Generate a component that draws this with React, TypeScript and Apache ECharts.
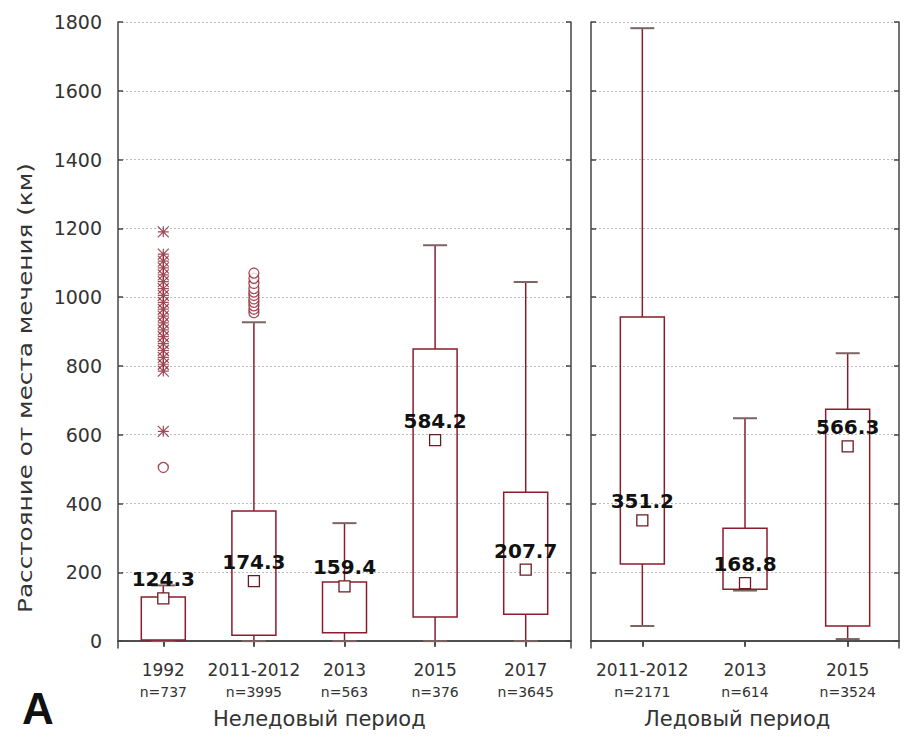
import React, { useEffect, useRef } from "react";
import * as echarts from "echarts";

// ---- Data ----
const nonIceCategories = ["1992", "2011-2012", "2013", "2015", "2017"];
const nonIceN = [737, 3995, 563, 376, 3645];
const nonIceMin = [0, 0, 0, 0, 0];
const nonIceQ1 = [3, 17, 24, 70, 78];
const nonIceMedian = [124.3, 174.3, 159.4, 584.2, 207.7];
const nonIceQ3 = [128, 378, 172, 849, 433];
const nonIceMax = [162, 927, 343, 1151, 1044];

const iceCategories = ["2011-2012", "2013", "2015"];
const iceN = [2171, 614, 3524];
const iceMin = [44, 147, 6];
const iceQ1 = [224, 151, 44];
const iceMedian = [351.2, 168.8, 566.3];
const iceQ3 = [942, 328, 674];
const iceMax = [1782, 648, 837];

// outliers (circles) and extremes (asterisks), non-ice period
const outliers1992 = [505];
const extremes1992 = [610, 785, 805, 825, 845, 865, 885, 905, 925, 945, 965, 985, 1005, 1025, 1045, 1065, 1085, 1105, 1125, 1190];
const outliers2011 = [955, 965, 975, 985, 995, 1005, 1015, 1025, 1040, 1055, 1070];

const yTicks = [0, 200, 400, 600, 800, 1000, 1200, 1400, 1600, 1800];

const RED = "#8b1c2c";
const CAP = "#7d6363";
const FONT = "DejaVu Sans";

function boxData(mins: number[], q1: number[], med: number[], q3: number[], max: number[]) {
  return mins.map((_, i) => [i, mins[i], q1[i], med[i], q3[i], max[i]]);
}

function renderBox(params: any, api: any) {
  const idx = api.value(0);
  const pMin = api.coord([idx, api.value(1)]);
  const pQ1 = api.coord([idx, api.value(2)]);
  const pMed = api.coord([idx, api.value(3)]);
  const pQ3 = api.coord([idx, api.value(4)]);
  const pMax = api.coord([idx, api.value(5)]);
  const x = pMin[0];
  const half = 22;
  const cap = 12;
  const sq = 11;
  return {
    type: "group",
    children: [
      { type: "line", shape: { x1: x, y1: pQ3[1], x2: x, y2: pMax[1] }, style: { stroke: RED, lineWidth: 1.5 } },
      { type: "line", shape: { x1: x, y1: pQ1[1], x2: x, y2: pMin[1] }, style: { stroke: RED, lineWidth: 1.5 } },
      { type: "line", shape: { x1: x - cap, y1: pMax[1], x2: x + cap, y2: pMax[1] }, style: { stroke: CAP, lineWidth: 2 } },
      { type: "line", shape: { x1: x - cap, y1: pMin[1], x2: x + cap, y2: pMin[1] }, style: { stroke: CAP, lineWidth: 2 } },
      {
        type: "rect",
        shape: { x: x - half, y: pQ3[1], width: half * 2, height: pQ1[1] - pQ3[1] },
        style: { fill: "rgba(255,255,255,0)", stroke: RED, lineWidth: 1.5 },
      },
      {
        type: "rect",
        shape: { x: x - sq / 2, y: pMed[1] - sq / 2, width: sq, height: sq },
        style: { fill: "#fff", stroke: "#6a1a22", lineWidth: 1.3 },
      },
      {
        type: "text",
        x: x,
        y: pMed[1] - 19,
        style: {
          text: String(api.value(3)),
          fill: "#111",
          font: `bold 20px "${FONT}"`,
          align: "center",
          verticalAlign: "middle",
        },
      },
    ],
  };
}

export default function App() {
  const ref = useRef<HTMLDivElement>(null);
  useEffect(() => {
    if (!ref.current) return;
    const chart = echarts.init(ref.current, undefined, { renderer: "svg" });

    const axisLine = { show: true, lineStyle: { color: "#444", width: 1.5 } };
    const catLabel = (ns: number[]) => ({
      show: true,
      interval: 0,
      margin: 11,
      formatter: (v: string, i: number) => `{c|${v}}\n{n|n=${ns[i]}}`,
      rich: {
        c: { fontSize: 17, lineHeight: 22, color: "#333", fontFamily: FONT },
        n: { fontSize: 14, lineHeight: 22, color: "#333", fontFamily: FONT },
      },
    });
    const yBase = (gridIndex: number, position: string, showLabel: boolean, split: boolean) => ({
      type: "value",
      gridIndex,
      position,
      min: -20,
      max: 1800,
      axisLine,
      axisTick: { show: true, inside: true, length: 5, customValues: yTicks, lineStyle: { color: "#444", width: 1.5 } },
      axisLabel: {
        show: showLabel,
        customValues: yTicks,
        formatter: (v: number) => String(v),
        margin: 16,
        fontSize: 19,
        color: "#333",
        fontFamily: FONT,
      },
      splitLine: split
        ? { show: true, lineStyle: { color: "#bdbdbd", type: [2, 2], width: 1 } }
        : { show: false },
    });

    const option: any = {
      animation: false,
      backgroundColor: "#fff",
      grid: [
        { left: 118, top: 22, width: 453, height: 626 },
        { left: 591, top: 22, width: 308, height: 626 },
      ],
      xAxis: [
        {
          type: "category",
          gridIndex: 0,
          data: nonIceCategories,
          position: "bottom",
          axisLine,
          axisTick: { show: true, alignWithLabel: true, length: 6, lineStyle: { color: "#444", width: 1.5 } },
          axisLabel: catLabel(nonIceN),
          splitLine: { show: false },
        },
        {
          type: "category",
          gridIndex: 0,
          data: nonIceCategories,
          position: "top",
          axisLine,
          axisTick: { show: true, inside: true, alignWithLabel: true, length: 5, lineStyle: { color: "#444", width: 1.5 } },
          axisLabel: { show: false },
        },
        {
          type: "category",
          gridIndex: 1,
          data: iceCategories,
          position: "bottom",
          axisLine,
          axisTick: { show: true, alignWithLabel: true, length: 6, lineStyle: { color: "#444", width: 1.5 } },
          axisLabel: catLabel(iceN),
        },
        {
          type: "category",
          gridIndex: 1,
          data: iceCategories,
          position: "top",
          axisLine,
          axisTick: { show: true, inside: true, alignWithLabel: true, length: 5, lineStyle: { color: "#444", width: 1.5 } },
          axisLabel: { show: false },
        },
      ],
      yAxis: [
        yBase(0, "left", true, true),
        yBase(0, "right", false, false),
        yBase(1, "left", false, true),
        yBase(1, "right", false, false),
      ],
      graphic: [
        {
          type: "text",
          x: 26,
          y: 388,
          rotation: Math.PI / 2,
          scaleX: 1.3,
          style: {
            text: "Расстояние от места мечения (км)",
            font: `19px "${FONT}"`,
            fill: "#333",
            align: "center",
            verticalAlign: "middle",
          },
        },
        { type: "text", left: 213, top: 708, style: { text: "Неледовый период", font: `21px "${FONT}"`, fill: "#333" } },
        { type: "text", left: 644, top: 708, style: { text: "Ледовый период", font: `21px "${FONT}"`, fill: "#333" } },
        { type: "text", left: 22, top: 686, style: { text: "A", font: `bold 44px "Liberation Sans"`, fill: "#111" } },
      ],
      series: [
        {
          type: "custom",
          xAxisIndex: 0,
          yAxisIndex: 0,
          renderItem: renderBox,
          encode: { x: 0, y: [1, 2, 3, 4, 5] },
          data: boxData(nonIceMin, nonIceQ1, nonIceMedian, nonIceQ3, nonIceMax),
          z: 3,
        },
        {
          type: "custom",
          xAxisIndex: 2,
          yAxisIndex: 2,
          renderItem: renderBox,
          encode: { x: 0, y: [1, 2, 3, 4, 5] },
          data: boxData(iceMin, iceQ1, iceMedian, iceQ3, iceMax),
          z: 3,
        },
        {
          type: "scatter",
          xAxisIndex: 0,
          yAxisIndex: 0,
          symbol: "circle",
          symbolSize: 10,
          itemStyle: { color: "#fff", borderColor: RED, borderWidth: 1.3 },
          data: [...outliers1992.map((v) => [0, v]), ...outliers2011.map((v) => [1, v])],
          z: 4,
        },
        {
          type: "scatter",
          xAxisIndex: 0,
          yAxisIndex: 0,
          symbol: "path://M0 0L10 10M10 0L0 10M5 0L5 10M0 5L10 5",
          symbolSize: 11,
          itemStyle: { color: "rgba(0,0,0,0)", borderColor: RED, borderWidth: 1.2 },
          data: extremes1992.map((v) => [0, v]),
          z: 4,
        },
      ],
    };
    chart.setOption(option);
    return () => chart.dispose();
  }, []);
  return (
    <div
      ref={ref}
      style={{ position: "absolute", left: 0, top: 0, width: 909, height: 738, background: "#fff" }}
    />
  );
}
